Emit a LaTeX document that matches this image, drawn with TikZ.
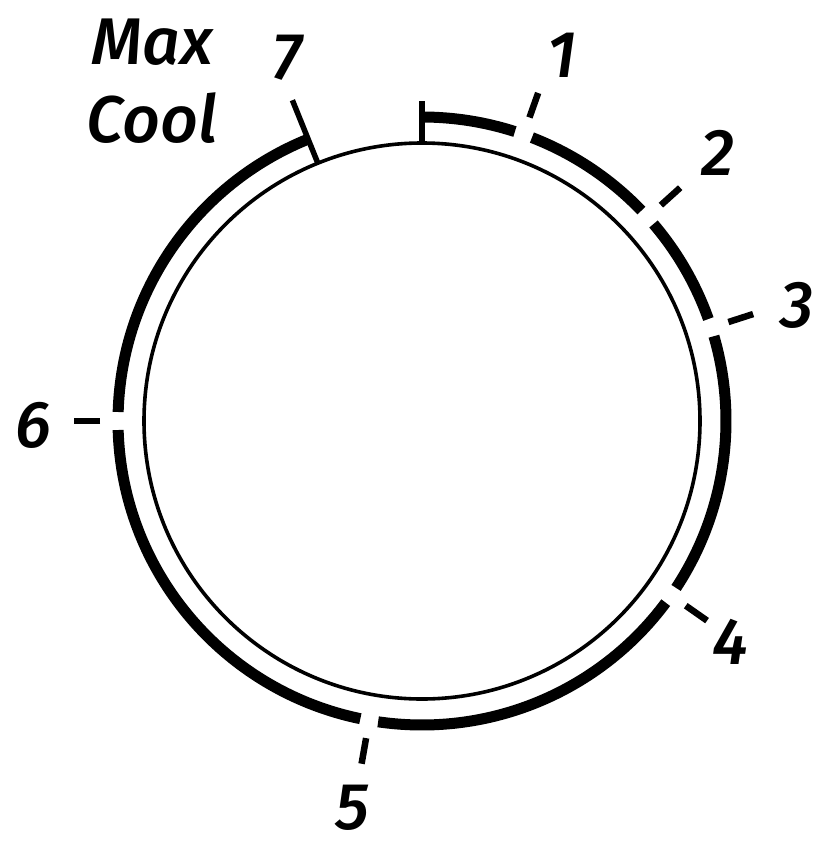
\documentclass[tikz,border=0pt]{standalone}
\usepackage{fontspec}
\setmainfont{Fira Sans}
\newfontface\lblfam{Fira Sans Medium Italic}
\begin{document}
\begin{tikzpicture}[x=1pt,y=1pt,
  thinring/.style={line width=3.6pt},
  thickarc/.style={line width=11pt},
  stopline/.style={line width=5.5pt},
  tickdash/.style={line width=6.5pt},
  lbl/.style={font=\lblfam\fontsize{66}{70}\selectfont, inner sep=0pt}]
\useasboundingbox (0,-847) rectangle (819,0);
\coordinate (c) at (422,-421);
% inner ring
\draw[thinring] (c) circle[radius=278pt];
% thick outer arc segments
\draw[thickarc] ([shift={(90:304pt)}]c) arc[start angle=90, end angle=72.2, radius=304pt];
\draw[thickarc] ([shift={(68.8:304pt)}]c) arc[start angle=68.8, end angle=43.8, radius=304pt];
\draw[thickarc] ([shift={(40.4:304pt)}]c) arc[start angle=40.4, end angle=19.6, radius=304pt];
\draw[thickarc] ([shift={(16.2:304pt)}]c) arc[start angle=16.2, end angle=-33.3, radius=304pt];
\draw[thickarc] ([shift={(-36.7:304pt)}]c) arc[start angle=-36.7, end angle=-98.3, radius=304pt];
\draw[thickarc] ([shift={(-101.7:304pt)}]c) arc[start angle=-101.7, end angle=-178.3, radius=304pt];
\draw[thickarc] ([shift={(-181.7:304pt)}]c) arc[start angle=-181.7, end angle=-248, radius=304pt];
% stop lines
\coordinate (s0a) at ([shift={(90:278pt)}]c);
\coordinate (s0b) at ([shift={(90:320pt)}]c);
\draw[stopline] (s0a) -- (s0b);
\coordinate (s7a) at ([shift={(112:278pt)}]c);
\coordinate (s7b) at ([shift={(112:346pt)}]c);
\draw[stopline] (s7a) -- (s7b);
% tick dashes
\foreach \n/\a in {1/70.5, 2/42.1, 3/17.9, 4/-35, 5/-100, 6/180}{
  \coordinate (t\n a) at ([shift={(\a:322pt)}]c);
  \coordinate (t\n b) at ([shift={(\a:348pt)}]c);
  \draw[tickdash] (t\n a) -- (t\n b);
}
% labels
\node[lbl] (l1) at (562,-55) {1};
\node[lbl] (l2) at (718,-153) {2};
\node[lbl] (l3) at (797,-305) {3};
\node[lbl] (l4) at (730,-642) {4};
\node[lbl] (l5) at (352,-808) {5};
\node[lbl] (l6) at (33,-425) {6};
\node[lbl] (l7) at (287,-58) {7};
\node[lbl] (max) at (152,-42) {Max};
\node[lbl] (cool) at (152,-118) {Cool};
\end{tikzpicture}
\end{document}
